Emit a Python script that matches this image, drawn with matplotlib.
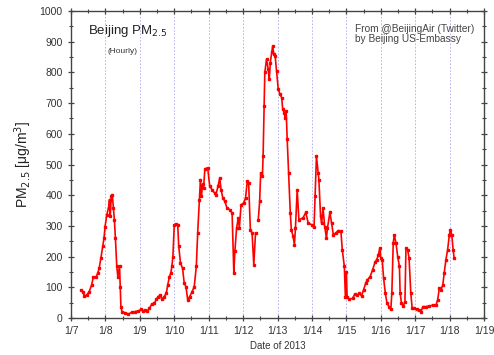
import numpy as np
import matplotlib
matplotlib.use('Agg')
import matplotlib.pyplot as plt

plt.rcParams['font.family'] = ['Liberation Sans', 'DejaVu Sans']

# hourly PM2.5 (day of January 2013, ug/m3); nan = gap
day = [7.29, 7.34, 7.39, 7.46, 7.53, 7.60, 7.65, 7.73, 7.78, 7.82, 7.87, 7.92, 7.96, 7.99,
       8.04, 8.09, 8.12, 8.14, 8.17, 8.20, 8.23, 8.26, 8.29, 8.33, 8.36, 8.41, 8.43, 8.45,
       8.48, 8.57, 8.67, 8.77, 8.86, 8.96, 9.04, 9.09, 9.16, 9.22, 9.28, 9.35, 9.42, 9.48,
       9.54, 9.59, 9.64, 9.71, 9.77, 9.81, 9.86, 9.90, 9.93, 9.96, 10.00, 10.06, 10.10,
       10.13, 10.18, 10.24, 10.29, 10.34, 10.39, 10.45, 10.52, 10.58, 10.64, 10.68, 10.73,
       10.76, 10.79, 10.82, 10.85, 10.89, 10.97, 11.03, 11.10, 11.17, 11.21, 11.27, 11.32,
       11.36, 11.41, 11.47, 11.53, 11.61, 11.68, 11.73, 11.76, 11.81, 11.86, 11.89, 11.94,
       12.02, 12.07, 12.12, 12.16, 12.21, 12.26, 12.31, 12.36, 12.40, 12.44, 12.48, 12.51,
       12.56, 12.58, 12.61, 12.63, 12.68, 12.73, 12.76, 12.79, 12.83, 12.86, 12.89, 12.93,
       12.97, 13.02, 13.07, 13.12, 13.15, 13.20, 13.22, 13.25, 13.28, 13.32, 13.37, 13.40,
       13.45, 13.49, 13.52, 13.57, 13.62, 13.74, 13.82, 13.89, 13.99, 14.06, 14.09, 14.13,
       14.18, 14.20, 14.25, 14.28, 14.32, 14.37, 14.42, 14.45, 14.52, 14.57, 14.62, 14.69,
       14.77, 14.84, 14.88, 14.94, 14.97, 15.00, 15.02, 15.08, 15.18, 15.24, 15.32, 15.37,
       15.44, 15.50, 15.56, 15.61, 15.69, 15.76, 15.83, 15.88, 15.93, 15.97, 16.00, 16.04,
       16.08, 16.13, 16.18, 16.24, 16.29, 16.32, 16.36, 16.39, 16.44, 16.49, 16.54, 16.56,
       16.60, 16.65, 16.70, 16.73, 16.78, 16.82, 16.87, 16.91, 16.97, 17.05, 17.12, 17.17,
       17.22, 17.31, 17.41, 17.51, 17.60, 17.65, 17.70, 17.75, 17.80, 17.84, 17.89, 17.94,
       17.99, 18.02, 18.06, 18.10, 18.13]
pm25 = [91, 86, 72, 75, 86, 108, 134, 134, 147, 163, 196, 233, 261, 298,
        336, 359, 386, 331, 397, 402, 359, 320, 261, 168, 135, 170, 102, 37,
        21, 17, 13, 19, 21, 23, 28, 23, 26, 23, 32, 46, 48, 61,
        70, 75, 61, 70, 81, 108, 135, 147, 168, 200, 304, 306, 304,
        233, 179, 162, 113, 102, 59, 70, 86, 102, 168, 277, 386,
        451, 396, 435, 424, 486, 489, 429, 418, 407, 402, 429, 456,
        418, 391, 380, 358, 353, 342, 146, 217, 293, 326, 293, 369,
        375, 391, 445, 440, 288, 277, 173, 277, np.nan, 320, 380, 473,
        462, 527, 690, 800, 843, 810, 778, 832, 865, 887, 859, 854,
        805, 745, 729, 718, 680, 669, 653, 674, 582, 473, 342, 288,
        266, 239, 293, 418, 320, 326, 344, 309, 304, 298, 397, 527,
        473, 451, 331, 309, 358, 298, 260, 293, 344, 309, 271, 277,
        285, 283, 222, 168, 70, 151, 70, 61, 64, 77, 75, 81,
        72, 92, 113, 124, 135, 157, 181, 190, 206, 228, 195, 190,
        130, 81, 48, 37, 28, 81, 244, 271, 244, 200, 168, 81,
        48, 39, 53, 228, 222, 195, 81, 32, 32, 29, 26, 21,
        37, 37, 39, 42, 42, 59, 97, 92, 108, 146, 190, 222,
        271, 288, 271, 222, 195]

tick_days = list(range(7, 20))
tick_labels = ['1/%d' % d for d in tick_days]

fig = plt.figure(figsize=(4.94, 3.55), dpi=100)
ax = fig.add_axes([0.1437, 0.1042, 0.8363, 0.8648])

# dotted day lines
for d in tick_days[1:-1]:
    ax.axvline(d, color='#aaaaf0', lw=0.6, ls=(0, (2, 2)), zorder=1)

ax.plot(day, pm25, color='#ff0000', lw=1.2, marker='s', ms=1.7, zorder=3)

ax.set_xlim(7, 19)
ax.set_ylim(0, 1000)
ax.set_xticks(tick_days)
ax.set_xticklabels(tick_labels)
ax.set_xticks(np.arange(7.5, 19, 1), minor=True)
ax.set_yticks(np.arange(0, 1001, 100))
ax.set_yticks(np.arange(50, 1000, 100), minor=True)

gray = '#444444'
for s in ax.spines.values():
    s.set_color(gray)
    s.set_linewidth(1.0)
ax.tick_params(which='both', direction='inout', top=True, right=True,
               color=gray, labelsize=7.5, labelcolor='#333333')
ax.tick_params(which='major', length=5, width=0.9)
ax.tick_params(which='minor', length=3, width=0.8)

ax.set_xlabel('Date of 2013', fontsize=7, color='#333333', labelpad=3)
ax.set_ylabel(r'PM$_{2.5}$ [μg/m$^3$]', fontsize=10, color='#222222', labelpad=4)

ax.text(0.04, 0.935, r'Beijing PM$_{2.5}$', transform=ax.transAxes,
        fontsize=9.5, color='#222222', va='center')
ax.text(0.088, 0.868, '(Hourly)', transform=ax.transAxes,
        fontsize=6, color='#333333', va='center')
ax.text(0.688, 0.925, 'From @BeijingAir (Twitter)\nby Beijing US-Embassy',
        transform=ax.transAxes, fontsize=7.3, color='#444444', va='center',
        linespacing=1.05)

fig.savefig('out.png', dpi=100)
